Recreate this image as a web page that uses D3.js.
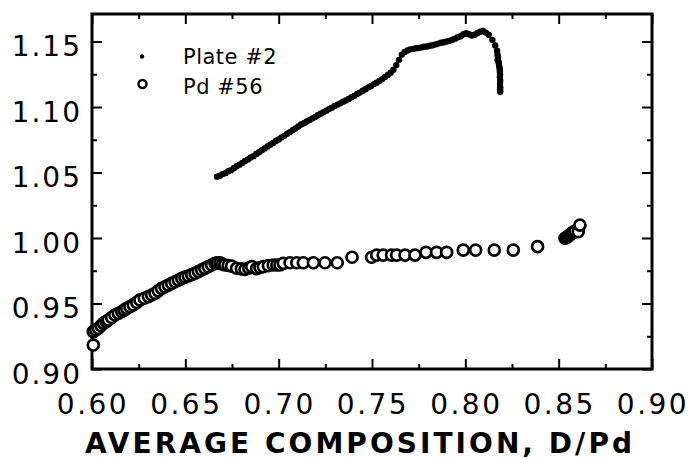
<!DOCTYPE html>
<html><head><meta charset="utf-8">
<script src="https://cdn.jsdelivr.net/npm/d3@7"></script>
<style>
html,body{margin:0;padding:0;background:#fff;}
svg{display:block;}
</style></head>
<body>
<svg id="chart" width="689" height="459"></svg>
<script>
// ---- Data ----
const seriesNames = ["Plate #2", "Pd #56"];
const xTickLabels = ["0.60","0.65","0.70","0.75","0.80","0.85","0.90"];
const yTickLabels = ["0.90","0.95","1.00","1.05","1.10","1.15"];
const xTitle = "AVERAGE COMPOSITION, D/Pd";

const plateX = [0.667,0.6685,0.670,0.6715,0.673,0.6745,0.676,0.6775,0.679,0.6805,0.682,0.6835,0.685,0.6865,0.688,0.6895,0.691,0.6925,0.694,0.6955,0.697,0.6985,0.700,0.7015,0.703,0.7045,0.706,0.7075,0.709,0.7105,0.712,0.7135,0.715,0.7165,0.718,0.7195,0.721,0.7225,0.724,0.7255,0.727,0.7285,0.730,0.7315,0.733,0.7345,0.736,0.7375,0.739,0.7405,0.742,0.7435,0.745,0.7465,0.748,0.7495,0.751,0.7525,0.754,0.7555,0.757,0.7585,0.760,0.7615,0.763,0.7645,0.766,0.7675,0.769,0.7705,0.772,0.7735,0.775,0.7765,0.778,0.7795,0.781,0.7825,0.784,0.7855,0.787,0.7885,0.790,0.7915,0.793,0.7945,0.796,0.7975,0.799,0.8005,0.802,0.8035,0.805,0.8065,0.808,0.8095,0.811,0.8125,0.8145,0.8160,0.8170,0.8172,0.8175,0.8173,0.8178,0.8180,0.8182,0.8184,0.8185,0.8186,0.8185,0.8187,0.8186,0.8187,0.8186,0.8186,0.8187];
const plateY = [1.0468,1.0475,1.0488,1.0495,1.0510,1.0518,1.0533,1.0548,1.0560,1.0572,1.0588,1.0600,1.0615,1.0625,1.0642,1.0655,1.0670,1.0683,1.0699,1.0712,1.0725,1.0741,1.0752,1.0768,1.0780,1.0796,1.0808,1.0823,1.0836,1.0852,1.0866,1.0876,1.0890,1.0900,1.0913,1.0924,1.0937,1.0948,1.0960,1.0972,1.0984,1.0995,1.1008,1.1018,1.1028,1.1040,1.1050,1.1062,1.1074,1.1085,1.1099,1.1110,1.1124,1.1135,1.1150,1.1160,1.1175,1.1186,1.1200,1.1213,1.1230,1.1245,1.1262,1.1285,1.1320,1.1360,1.1400,1.1420,1.1432,1.1440,1.1443,1.1448,1.1450,1.1455,1.1460,1.1462,1.1468,1.1472,1.1478,1.1484,1.1490,1.1494,1.1500,1.1505,1.1514,1.1522,1.1532,1.1540,1.1555,1.1563,1.1555,1.1545,1.1552,1.1565,1.1575,1.1580,1.1568,1.1552,1.1512,1.1470,1.1430,1.1400,1.1380,1.1360,1.1345,1.1330,1.1310,1.1290,1.1270,1.1250,1.1230,1.1200,1.1175,1.1150,1.1135,1.1125,1.1117];

const pdX = [0.6007,0.6007,0.6020,0.6034,0.6048,0.6061,0.6075,0.6087,0.6105,0.6123,0.6141,0.6159,0.6172,0.6186,0.6203,0.6221,0.6240,0.6257,0.6280,0.6302,0.6320,0.6338,0.6355,0.6373,0.6391,0.6409,0.6427,0.6445,0.6463,0.6481,0.6498,0.6516,0.6534,0.6552,0.6570,0.6588,0.6605,0.6623,0.6641,0.6659,0.6672,0.6686,0.6699,0.6712,0.6730,0.6748,0.6775,0.6800,0.6820,0.6840,0.6856,0.6882,0.6900,0.6918,0.6945,0.6971,0.6990,0.7007,0.7025,0.7061,0.7097,0.7132,0.7186,0.7248,0.7314,0.7393,0.7498,0.7525,0.7560,0.7605,0.7632,0.7677,0.7730,0.7789,0.7846,0.7900,0.7989,0.8055,0.8155,0.8257,0.8387,0.8534,0.8543,0.8552,0.8561,0.8570,0.8579,0.8588,0.8605,0.8614];
const pdY = [0.9183,0.9285,0.9298,0.9311,0.9330,0.9349,0.9362,0.9374,0.9393,0.9412,0.9425,0.9437,0.9450,0.9463,0.9476,0.9489,0.9508,0.9527,0.9540,0.9552,0.9565,0.9578,0.9597,0.9616,0.9628,0.9641,0.9654,0.9666,0.9679,0.9692,0.9701,0.9710,0.9721,0.9731,0.9744,0.9756,0.9768,0.9781,0.9794,0.9807,0.9810,0.9811,0.9800,0.9794,0.9790,0.9786,0.9769,0.9765,0.9761,0.9770,0.9781,0.9766,0.9775,0.9781,0.9789,0.9794,0.9794,0.9794,0.9807,0.9811,0.9811,0.9811,0.9811,0.9811,0.9811,0.9853,0.9853,0.9870,0.9870,0.9870,0.9870,0.9870,0.9870,0.9891,0.9891,0.9891,0.9908,0.9908,0.9908,0.9908,0.9934,0.9998,1.0005,1.0015,1.0025,1.0036,1.0045,1.0053,1.0048,1.0099];

// ---- Layout ----
const svg = d3.select("#chart");
const L = 92, R = 652, T = 14, B = 369;
const x = d3.scaleLinear().domain([0.60, 0.90]).range([L, R]);
const y = d3.scaleLinear().domain([0.90, 1.171]).range([B, T]);

const xMajor = xTickLabels.map(Number);
const yMajor = yTickLabels.map(Number);
const xMinor = d3.range(0.625, 0.9, 0.05);
const yMinor = d3.range(0.925, 1.171, 0.05);

function tickAxis(axis, vals, size, tr) {
  const g = svg.append("g").attr("transform", tr)
    .call(axis.tickValues(vals).tickSize(size).tickFormat(""));
  g.select(".domain").remove();
  g.selectAll(".tick line").attr("stroke", "#000").attr("stroke-width", 2);
}
tickAxis(d3.axisBottom(x), xMajor, -10, `translate(0,${B})`);
tickAxis(d3.axisBottom(x), xMinor, -5, `translate(0,${B})`);
tickAxis(d3.axisTop(x), xMajor, -10, `translate(0,${T})`);
tickAxis(d3.axisTop(x), xMinor, -5, `translate(0,${T})`);
tickAxis(d3.axisLeft(y), yMajor, -10, `translate(${L},0)`);
tickAxis(d3.axisLeft(y), yMinor, -5, `translate(${L},0)`);
tickAxis(d3.axisRight(y), yMajor, -10, `translate(${R},0)`);
tickAxis(d3.axisRight(y), yMinor, -5, `translate(${R},0)`);

svg.append("rect").attr("x", L).attr("y", T).attr("width", R - L).attr("height", B - T)
  .attr("fill", "none").attr("stroke", "#000").attr("stroke-width", 3);

const font = "'DejaVu Sans', Verdana, sans-serif";
// tick labels
svg.append("g").selectAll("text").data(xTickLabels).join("text")
  .attr("x", d => x(+d) + 1).attr("y", 414)
  .attr("text-anchor", "middle").attr("font-family", font).attr("font-size", 28)
  .attr("letter-spacing", 2.5).attr("fill", "#000").text(d => d);
svg.append("g").selectAll("text").data(yTickLabels).join("text")
  .attr("x", 82).attr("y", d => y(+d) + 14.5)
  .attr("text-anchor", "end").attr("font-family", font).attr("font-size", 28)
  .attr("letter-spacing", 2).attr("fill", "#000").text(d => d);

// axis title
svg.append("text").attr("x", 85).attr("y", 453)
  .attr("font-family", font).attr("font-size", 28).attr("font-weight", "bold")
  .attr("textLength", 547).attr("lengthAdjust", "spacing")
  .attr("fill", "#000").text(xTitle);

// data
const plate = plateX.map((v, i) => [v, plateY[i]]);
const pd = pdX.map((v, i) => [v, pdY[i]]);

svg.append("g").selectAll("circle").data(pd).join("circle")
  .attr("cx", d => x(d[0])).attr("cy", d => y(d[1])).attr("r", 5.5)
  .attr("fill", "#fff").attr("stroke", "#000").attr("stroke-width", 2.7);

svg.append("g").selectAll("circle").data(plate).join("circle")
  .attr("cx", d => x(d[0])).attr("cy", d => y(d[1])).attr("r", 3.2)
  .attr("fill", "#000");

// legend
svg.append("circle").attr("cx", 142).attr("cy", 56.5).attr("r", 2.2).attr("fill", "#000");
svg.append("circle").attr("cx", 142.5).attr("cy", 84).attr("r", 4).attr("fill", "#fff")
  .attr("stroke", "#000").attr("stroke-width", 2.4);
svg.append("g").selectAll("text").data(seriesNames).join("text")
  .attr("x", 183).attr("y", (d, i) => 64 + i * 30)
  .attr("font-family", font).attr("font-size", 21).attr("letter-spacing", 0.5)
  .attr("fill", "#000").text(d => d);
</script>
</body></html>
